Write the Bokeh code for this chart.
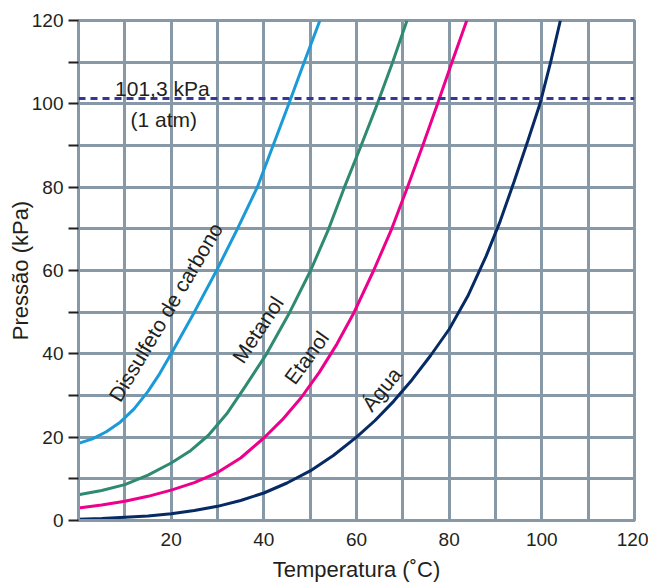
from bokeh.plotting import figure
from bokeh.models import Range1d, FixedTicker, Span, Label
from bokeh.embed import file_html
from bokeh.resources import INLINE

# ---- data (temperature °C, pressure kPa) ----
cs2_t = [0, 3, 6, 9, 12, 15, 17.5, 20, 25, 29.8, 34.3, 38.6, 42.0, 45.4, 48.7, 52.1]
cs2_p = [18.5, 19.6, 21.3, 23.6, 26.8, 31.0, 35.2, 40, 50, 60, 70, 80, 90, 100, 110, 120]

met_t = [0, 5, 10, 15, 20, 24, 28, 32, 36, 40.6, 45.6, 50.1, 54, 57.4, 61, 64.5, 67.8, 70.9]
met_p = [6.2, 7.2, 8.6, 10.9, 13.8, 16.6, 20.4, 25.6, 32.2, 40, 50, 60, 70, 80, 90, 100, 110, 120]

eta_t = [0, 5, 10, 15, 20, 25, 30, 35, 40, 44, 48, 52, 55.8, 59.5, 63.7, 67.6,
         71, 74.3, 77.5, 80.6, 83.8]
eta_p = [3.0, 3.7, 4.6, 5.8, 7.3, 9.1, 11.5, 15.0, 19.8, 24.2, 29.4, 35.6, 42.4, 50, 60, 70,
         80, 90, 100, 110, 120]

agua_t = [0, 5, 10, 15, 20, 25, 30, 35, 40, 45, 50, 55, 60, 64, 68, 72, 76, 80, 84,
          88, 91, 94, 97, 99.6, 101.9, 104]
agua_p = [0.3, 0.5, 0.8, 1.1, 1.6, 2.4, 3.4, 4.8, 6.6, 9.0, 11.9, 15.6, 20, 24, 28.6, 33.8,
          39.6, 45.9, 53.8, 63.5, 71.8, 81.3, 91.2, 100, 110, 120]

ATM = 101.3
x_ticks = [20, 40, 60, 80, 100, 120]
y_ticks = [0, 20, 40, 60, 80, 100, 120]
y_minor = [10, 30, 50, 70, 90, 110]
grid_ticks = list(range(0, 121, 10))

GRID = "#8799a6"
TXT = "#231f20"
FONT = "Liberation Sans"

p = figure(width=648, height=584, output_backend="svg", toolbar_location=None,
           x_range=Range1d(0, 120), y_range=Range1d(0, 120),
           min_border_left=78, min_border_right=14, min_border_top=20, min_border_bottom=64)
p.background_fill_color = "white"
p.border_fill_color = "white"
p.outline_line_color = GRID
p.outline_line_width = 3

# grid
for g in (p.xgrid, p.ygrid):
    g.ticker = FixedTicker(ticks=grid_ticks)
    g.grid_line_color = GRID
    g.grid_line_width = 3

# x axis
xa = p.xaxis[0]
xa.ticker = FixedTicker(ticks=x_ticks)
xa.major_tick_line_color = None
xa.minor_tick_line_color = None
xa.axis_line_color = GRID
xa.axis_line_width = 3
xa.major_label_text_font = FONT
xa.major_label_text_font_size = "19px"
xa.major_label_text_color = TXT
xa.major_label_standoff = 6
xa.axis_label = "Temperatura (\u02daC)"
xa.axis_label_text_font = FONT
xa.axis_label_text_font_size = "22px"
xa.axis_label_text_font_style = "normal"
xa.axis_label_text_color = TXT
xa.axis_label_standoff = 8

# y axis
ya = p.yaxis[0]
ya.ticker = FixedTicker(ticks=y_ticks, minor_ticks=y_minor)
ya.major_tick_line_color = TXT
ya.major_tick_line_width = 2
ya.major_tick_out = 10
ya.major_tick_in = 0
ya.minor_tick_line_color = TXT
ya.minor_tick_line_width = 2
ya.minor_tick_out = 10
ya.minor_tick_in = 0
ya.axis_line_color = GRID
ya.axis_line_width = 3
ya.major_label_text_font = FONT
ya.major_label_text_font_size = "19px"
ya.major_label_text_color = TXT
ya.major_label_standoff = 5
ya.axis_label = "Press\u00e3o (kPa)"
ya.axis_label_text_font = FONT
ya.axis_label_text_font_size = "22px"
ya.axis_label_text_font_style = "normal"
ya.axis_label_text_color = TXT
ya.axis_label_standoff = -4

# 1 atm line
p.add_layout(Span(location=ATM, dimension="width", line_color="#35359a",
                  line_width=3, line_dash="7 5"))

# curves
p.line(cs2_t, cs2_p, line_color="#1b9ad8", line_width=3)
p.line(met_t, met_p, line_color="#2f8a72", line_width=3)
p.line(eta_t, eta_p, line_color="#ec008c", line_width=3)
p.line(agua_t, agua_p, line_color="#062a63", line_width=3)

def lab(x, y, text, angle=0, size="21px"):
    p.add_layout(Label(x=x, y=y, text=text, angle=angle, angle_units="deg",
                       text_font=FONT, text_font_size=size, text_color=TXT,
                       text_align="center", text_baseline="middle"))

lab(18.1, 103.6, "101,3 kPa")
lab(18.4, 96.3, "(1 atm)")
lab(18.8, 50.0, "Dissulfeto de carbono", 59.5)
lab(38.7, 45.8, "Metanol", 56.5)
lab(49.2, 39.1, "Etanol", 54)
lab(65.4, 31.5, "\u00c1gua", 51)

open("out.html", "w").write(file_html(p, INLINE))
